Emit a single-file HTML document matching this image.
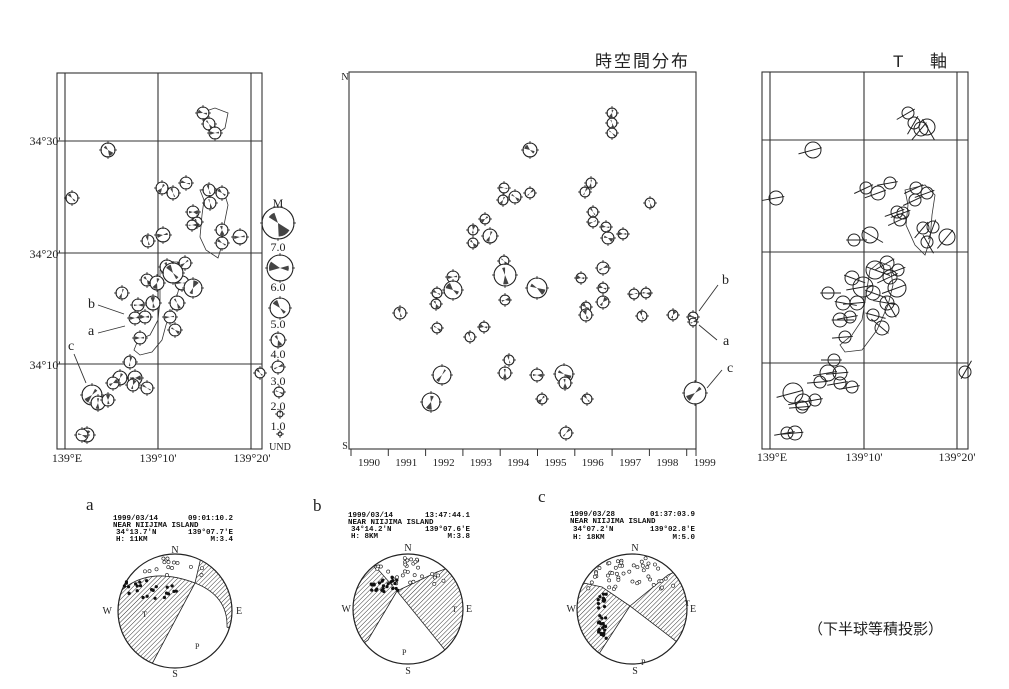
<!DOCTYPE html>
<html><head><meta charset="utf-8"><style>
html,body{margin:0;padding:0;background:#fff;}
svg{display:block;}
.t{font-family:"Liberation Serif",serif;fill:#222;}
.m{font-family:"Liberation Mono",monospace;font-weight:bold;font-size:7.5px;fill:#111;}
.j{font-family:"Liberation Sans","Noto Sans CJK JP",sans-serif;fill:#222;}
</style></head><body>
<svg id="s" width="1009" height="689" viewBox="0 0 1009 689" xmlns="http://www.w3.org/2000/svg">
<defs>
<pattern id="h" width="3.2" height="3.2" patternUnits="userSpaceOnUse" patternTransform="rotate(45)">
<line x1="0" y1="0" x2="0" y2="3.2" stroke="#222" stroke-width="0.9"/></pattern>
<clipPath id="ca"><circle cx="175" cy="611" r="57"/></clipPath>
<clipPath id="cb"><circle cx="408" cy="609" r="55"/></clipPath>
<clipPath id="cc"><circle cx="632" cy="609" r="55"/></clipPath>
</defs>
<g fill="none" stroke="#333" stroke-width="1.1">
<rect x="57" y="73" width="205" height="376"/>
<line x1="65" y1="73" x2="65" y2="449"/><line x1="158" y1="73" x2="158" y2="449"/><line x1="251" y1="73" x2="251" y2="449"/>
<line x1="57" y1="141" x2="262" y2="141"/><line x1="57" y1="253" x2="262" y2="253"/><line x1="57" y1="364" x2="262" y2="364"/>
<rect x="762" y="72" width="206" height="377"/>
<line x1="770" y1="72" x2="770" y2="449"/><line x1="864" y1="72" x2="864" y2="449"/><line x1="957" y1="72" x2="957" y2="449"/>
<line x1="762" y1="140" x2="968" y2="140"/><line x1="762" y1="252" x2="968" y2="252"/><line x1="762" y1="363" x2="968" y2="363"/>
<rect x="349" y="72" width="347" height="377"/>
<path d="M200,190 L204,200 L202,215 L200,237 L206,250 L218,258 L222,245 L224,225 L228,205 L225,195 L215,188 Z" stroke-width="0.8"/>
<path d="M203,112 L215,108 L228,113 L225,128 L215,135 L205,128 Z" stroke-width="0.8"/>
<path d="M160,270 L168,262 L178,262 L182,275 L178,292 L172,310 L166,325 L162,340 L152,352 L140,355 L134,350 L138,340 L150,335 L158,320 L160,300 Z" stroke-width="0.8"/>
<path d="M905,190 L908,205 L906,225 L915,245 L925,255 L930,240 L932,215 L935,195 L925,185 Z" stroke-width="0.8"/>
<path d="M870,270 L880,262 L890,266 L893,285 L888,305 L877,330 L862,350 L845,352 L840,345 L852,335 L862,320 L866,295 Z" stroke-width="0.8"/>
</g>
<g id="bbs"></g>
<g class="t" font-size="12">
<text x="45" y="145" text-anchor="middle">34°30'</text>
<text x="45" y="258" text-anchor="middle">34°20'</text>
<text x="45" y="369" text-anchor="middle">34°10'</text>
<text x="67" y="462" text-anchor="middle">139°E</text>
<text x="158" y="462" text-anchor="middle">139°10'</text>
<text x="252" y="462" text-anchor="middle">139°20'</text>
<text x="772" y="461" text-anchor="middle">139°E</text>
<text x="864" y="461" text-anchor="middle">139°10'</text>
<text x="957" y="461" text-anchor="middle">139°20'</text>
<text x="278" y="207" text-anchor="middle">M</text>
<text x="278" y="251" text-anchor="middle">7.0</text>
<text x="278" y="291" text-anchor="middle">6.0</text>
<text x="278" y="328" text-anchor="middle">5.0</text>
<text x="278" y="358" text-anchor="middle">4.0</text>
<text x="278" y="385" text-anchor="middle">3.0</text>
<text x="278" y="410" text-anchor="middle">2.0</text>
<text x="278" y="430" text-anchor="middle">1.0</text>
<text x="280" y="450" text-anchor="middle" font-size="10">UND</text>
<text x="345" y="80" text-anchor="middle" font-size="10">N</text>
<text x="345" y="449" text-anchor="middle" font-size="10">S</text>
</g>
<g class="t" font-size="14">
<text x="88" y="308">b</text><text x="88" y="335">a</text><text x="68" y="350">c</text>
<text x="722" y="284">b</text><text x="723" y="345">a</text><text x="727" y="372">c</text>
<text x="86" y="510" font-size="17">a</text>
<text x="313" y="511" font-size="17">b</text>
<text x="538" y="502" font-size="17">c</text>
</g>
<g stroke="#333" stroke-width="0.9">
<line x1="98" y1="305" x2="124" y2="314"/><line x1="98" y1="333" x2="125" y2="326"/><line x1="74" y1="354" x2="86" y2="383"/>
<line x1="699" y1="311" x2="718" y2="285"/><line x1="699" y1="325" x2="717" y2="340"/><line x1="707" y1="388" x2="722" y2="370"/>
</g>
<g id="years" class="t" font-size="11"></g>
<text class="j" x="595" y="67" font-size="17" letter-spacing="2">時空間分布</text>
<text class="j" x="893" y="67" font-size="17">T</text>
<text class="j" x="930" y="67" font-size="17">軸</text>
<text class="j" x="808" y="634" font-size="15">（下半球等積投影）</text>
<g class="m">
<text x="113" y="520">1999/03/14</text><text x="233" y="520" text-anchor="end">09:01:10.2</text>
<text x="113" y="527">NEAR NIIJIMA ISLAND</text>
<text x="116" y="534">34°13.7'N</text><text x="233" y="534" text-anchor="end">139°07.7'E</text>
<text x="116" y="541">H: 11KM</text><text x="233" y="541" text-anchor="end">M:3.4</text>
<text x="348" y="517">1999/03/14</text><text x="470" y="517" text-anchor="end">13:47:44.1</text>
<text x="348" y="524">NEAR NIIJIMA ISLAND</text>
<text x="351" y="531">34°14.2'N</text><text x="470" y="531" text-anchor="end">139°07.6'E</text>
<text x="351" y="538">H:  8KM</text><text x="470" y="538" text-anchor="end">M:3.8</text>
<text x="570" y="516">1999/03/28</text><text x="695" y="516" text-anchor="end">01:37:03.9</text>
<text x="570" y="523">NEAR NIIJIMA ISLAND</text>
<text x="573" y="531">34°07.2'N</text><text x="695" y="531" text-anchor="end">139°02.8'E</text>
<text x="573" y="539">H: 18KM</text><text x="695" y="539" text-anchor="end">M:5.0</text>
</g>
<g clip-path="url(#ca)" fill="url(#h)" stroke="#222" stroke-width="0.8">
<path d="M195,583 L152,664 L100,680 L100,590 L122,590 Q150,566 195,583 Z"/>
<path d="M195,583 L205,540 L250,555 L250,640 L227,627 Q228,596 195,583 Z"/>
</g>
<g clip-path="url(#cb)" fill="url(#h)" stroke="#222" stroke-width="0.8">
<path d="M397,591 L375,566 L340,560 L340,660 L368,640 Z"/>
<path d="M397,591 L437,572 L470,560 L470,660 L445,650 Z"/>
</g>
<g clip-path="url(#cc)" fill="url(#h)" stroke="#222" stroke-width="0.8">
<path d="M630,606 L602,587 L570,580 L570,680 L595,660 Z"/>
<path d="M630,606 L668,575 L700,560 L700,660 L677,642 Z"/>
</g>
<g fill="none" stroke="#222" stroke-width="1.2">
<circle cx="175" cy="611" r="57"/><circle cx="408" cy="609" r="55"/><circle cx="632" cy="609" r="55"/>
</g>
<g class="t" font-size="10">
<text x="175" y="553" text-anchor="middle">N</text><text x="175" y="677" text-anchor="middle">S</text>
<text x="112" y="614" text-anchor="end">W</text><text x="236" y="614">E</text>
<text x="142" y="617" font-size="8">T</text><text x="195" y="649" font-size="8">P</text>
<text x="408" y="551" text-anchor="middle">N</text><text x="408" y="674" text-anchor="middle">S</text>
<text x="351" y="612" text-anchor="end">W</text><text x="466" y="612">E</text>
<text x="452" y="612" font-size="8">T</text><text x="402" y="655" font-size="8">P</text>
<text x="635" y="551" text-anchor="middle">N</text><text x="635" y="674" text-anchor="middle">S</text>
<text x="576" y="612" text-anchor="end">W</text><text x="690" y="612">E</text>
<text x="685" y="606" font-size="8">T</text><text x="641" y="665" font-size="8">P</text>
</g>
<g id="dots"></g>
</svg>
<script>
var NS="http://www.w3.org/2000/svg";
function el(p,n,a){var e=document.createElementNS(NS,n);for(var k in a)e.setAttribute(k,a[k]);p.appendChild(e);return e;}
var g=document.getElementById('bbs');
function wedge(x,y,r,a1,a2){var r1=a1*Math.PI/180,r2=a2*Math.PI/180;
return "M"+x+","+y+" L"+(x+r*Math.cos(r1)).toFixed(1)+","+(y+r*Math.sin(r1)).toFixed(1)+" A"+r+","+r+" 0 0 1 "+(x+r*Math.cos(r2)).toFixed(1)+","+(y+r*Math.sin(r2)).toFixed(1)+" Z";}
var seed=7;function rnd(){seed=(seed*9301+49297)%233280;return seed/233280;}
function bb(x,y,r){el(g,'circle',{cx:x,cy:y,r:r,fill:'#fff',stroke:'#222','stroke-width':1.1});
var a=rnd()*360, w=25+rnd()*30, rr=r*0.85;
el(g,'path',{d:wedge(x,y,rr,a,a+w)+wedge(x,y,rr*0.8,a+180,a+180+w*0.7),fill:'#444'});
[[0,-1],[0,1],[-1,0],[1,0]].forEach(function(d){el(g,'line',{x1:x+d[0]*(r-1),y1:y+d[1]*(r-1),x2:x+d[0]*(r+2),y2:y+d[1]*(r+2),stroke:'#222','stroke-width':0.8});});}
function tc(x,y,r,ang){el(g,'circle',{cx:x,cy:y,r:r,fill:'none',stroke:'#222','stroke-width':1});
var t=ang*Math.PI/180,L=r+7;el(g,'line',{x1:x-L*Math.cos(t),y1:y-L*Math.sin(t),x2:x+L*Math.cos(t)*0.6,y2:y+L*Math.sin(t)*0.6,stroke:'#222','stroke-width':1});}
var left=[[203,113,6],[209,124,6],[215,133,6],[108,150,7],[72,198,6],[162,188,6],[173,193,6],[186,183,6],[209,190,6],[222,193,6],[210,203,6],[193,212,6],[197,222,5],[192,225,5],[163,235,7],[148,241,6],[222,230,6],[240,237,7],[222,243,6],[167,267,7],[185,263,6],[147,280,6],[157,283,7],[182,283,7],[173,273,10],[193,288,9],[177,303,7],[170,317,6],[175,330,6],[153,303,7],[138,305,6],[135,318,6],[145,317,6],[140,338,6],[122,293,6],[130,362,6],[120,378,7],[113,383,6],[135,378,7],[133,385,6],[147,388,6],[92,395,10],[98,403,7],[108,400,6],[87,435,7],[82,435,6],[260,373,5]];
left.forEach(function(c){bb(c[0],c[1],c[2]);});
[[278,223,16],[280,268,13],[280,308,10],[278,340,7],[278,367,6],[279,392,5],[280,414,3],[280,434,2]].forEach(function(c){bb(c[0],c[1],c[2]);});
var mid=[[612,113,5],[612,123,5],[612,133,5],[530,150,7],[530,193,5],[504,188,5],[503,200,5],[515,197,6],[591,183,5],[585,192,5],[650,203,5],[593,212,5],[593,222,5],[606,227,5],[608,238,6],[623,234,5],[485,219,5],[473,230,5],[490,236,7],[473,243,5],[504,261,5],[505,275,11],[537,288,10],[453,277,6],[453,290,9],[437,293,5],[436,304,5],[400,313,6],[505,300,5],[581,278,5],[603,268,6],[603,288,5],[603,302,6],[586,307,5],[586,315,6],[634,294,5],[646,293,5],[642,316,5],[673,315,5],[693,317,5],[693,322,4],[437,328,5],[484,327,5],[470,337,5],[509,360,5],[505,373,6],[442,375,9],[537,375,6],[564,374,9],[565,383,6],[431,402,9],[542,399,5],[587,399,5],[566,433,6],[695,393,11]];
mid.forEach(function(c){bb(c[0],c[1],c[2]);});
var rt=[[908,113,6,-30],[914,123,6,-60],[921,129,7,-50],[927,127,8,-120],[813,150,8,-15],[776,198,7,-10],[866,188,6,-25],[878,193,7,-20],[890,183,6,-10],[916,188,6,-25],[927,193,6,-20],[915,200,6,-25],[897,212,6,-20],[903,213,6,-20],[900,220,6,-25],[923,228,6,-50],[933,227,6,-70],[927,242,6,-120],[947,237,8,-50],[854,240,6,180],[870,235,8,-150],[875,270,9,-160],[887,263,7,-30],[898,270,6,-20],[852,278,7,-160],[863,287,10,-10],[890,277,7,-25],[897,288,9,-20],[873,293,7,-160],[887,303,7,10],[828,293,6,180],[857,303,7,-5],[843,303,7,-170],[840,320,7,180],[850,317,6,-10],[873,315,6,-165],[892,310,7,60],[882,328,7,40],[845,337,6,-5],[834,360,6,0],[828,373,8,-10],[840,373,7,-5],[840,383,6,-10],[820,382,6,-5],[852,387,6,-10],[815,400,6,-10],[793,393,10,-15],[803,402,8,-10],[802,407,6,-5],[787,433,6,-10],[795,433,7,-5],[965,372,6,120]];
rt.forEach(function(c){tc(c[0],c[1],c[2],c[3]);});
var yr=document.getElementById('years');
for(var i=0;i<10;i++){var x=351+i*37.3;el(yr,'line',{x1:x,y1:449,x2:x,y2:456,stroke:'#333','stroke-width':1});
var t=el(yr,'text',{x:x+18,y:466,'text-anchor':'middle'});t.textContent=1990+i;}
el(yr,'line',{x1:696,y1:449,x2:696,y2:456,stroke:'#333','stroke-width':1});
var d=document.getElementById('dots');
function sc(cx,cy,r,n,yband,xs,open){for(var i=0;i<n;i++){var x=cx+(rnd()*2-1)*xs*r,y=cy-r+yband[0]+rnd()*(yband[1]-yband[0]);
if((x-cx)*(x-cx)+(y-cy)*(y-cy)>r*r*0.92)continue;
el(d,'circle',{cx:x,cy:y,r:open?1.6:1.3,fill:open?'#fff':'#111',stroke:'#111','stroke-width':0.6});}}
sc(175,611,57,18,[4,22],0.6,true);sc(150,611,57,25,[25,45],0.5,false);
sc(408,609,55,40,[4,30],0.7,true);sc(385,609,55,25,[22,40],0.25,false);
sc(632,609,55,60,[4,35],0.8,true);sc(602,609,55,30,[40,85],0.08,false);
</script>
</body></html>
